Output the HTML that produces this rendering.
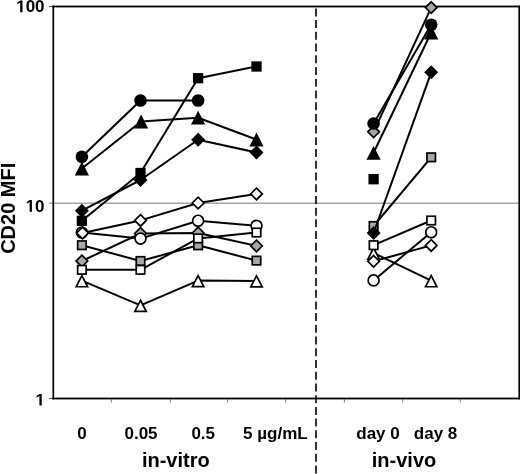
<!DOCTYPE html>
<html><head><meta charset="utf-8"><style>
html,body{margin:0;padding:0;background:#fff;}
svg{display:block;will-change:transform;}
text{font-family:"Liberation Sans",sans-serif;font-weight:bold;fill:#000;}
</style></head><body>
<svg width="520" height="474" viewBox="0 0 520 474">
<rect width="520" height="474" fill="#fff"/>
<!-- gridline at 10 -->
<line x1="53" y1="203.25" x2="519" y2="203.25" stroke="#a3a3a3" stroke-width="1.3"/>
<!-- ticks -->
<line x1="49" y1="6.5" x2="53" y2="6.5" stroke="#444" stroke-width="1"/>
<line x1="49" y1="203.1" x2="53" y2="203.1" stroke="#808080" stroke-width="1"/>
<line x1="49" y1="398.5" x2="53" y2="398.5" stroke="#555" stroke-width="1"/>
<!-- x ticks -->
<line x1="111.4" y1="399.3" x2="111.4" y2="402.6" stroke="#8a8a8a" stroke-width="1.1"/><line x1="170.3" y1="399.3" x2="170.3" y2="402.6" stroke="#8a8a8a" stroke-width="1.1"/><line x1="227.5" y1="399.3" x2="227.5" y2="402.6" stroke="#8a8a8a" stroke-width="1.1"/><line x1="285.7" y1="399.3" x2="285.7" y2="402.6" stroke="#8a8a8a" stroke-width="1.1"/><line x1="344.4" y1="399.3" x2="344.4" y2="402.6" stroke="#8a8a8a" stroke-width="1.1"/><line x1="402.6" y1="399.3" x2="402.6" y2="402.6" stroke="#8a8a8a" stroke-width="1.1"/><line x1="460.3" y1="399.3" x2="460.3" y2="402.6" stroke="#8a8a8a" stroke-width="1.1"/>
<!-- dashed separator -->
<line x1="316" y1="8.4" x2="316" y2="474" stroke="#000" stroke-width="1.6" stroke-dasharray="8 3.72"/>
<!-- plot frame -->
<rect x="52.45" y="5.6" width="467.55" height="1.8" fill="#000"/>
<rect x="52.45" y="397.6" width="467.55" height="1.8" fill="#000"/>
<rect x="52.45" y="5.6" width="1.7" height="393.8" fill="#000"/>
<rect x="518.4" y="5.6" width="1.6" height="393.8" fill="#000"/>
<polyline points="81.90,261.00 140.50,233.50 198.10,233.00 256.50,245.90" fill="none" stroke="#000" stroke-width="2.0" stroke-linejoin="round"/>
<polyline points="373.60,131.80 431.20,7.60" fill="none" stroke="#000" stroke-width="2.0" stroke-linejoin="round"/>
<path d="M81.90 255.20L87.70 261.00L81.90 266.80L76.10 261.00Z" fill="#a8a8a8" stroke="#000" stroke-width="1.7"/>
<path d="M140.50 227.70L146.30 233.50L140.50 239.30L134.70 233.50Z" fill="#a8a8a8" stroke="#000" stroke-width="1.7"/>
<path d="M198.10 227.20L203.90 233.00L198.10 238.80L192.30 233.00Z" fill="#a8a8a8" stroke="#000" stroke-width="1.7"/>
<path d="M256.50 240.10L262.30 245.90L256.50 251.70L250.70 245.90Z" fill="#a8a8a8" stroke="#000" stroke-width="1.7"/>
<path d="M373.60 126.00L379.40 131.80L373.60 137.60L367.80 131.80Z" fill="#a8a8a8" stroke="#000" stroke-width="1.7"/>
<path d="M431.20 1.80L437.00 7.60L431.20 13.40L425.40 7.60Z" fill="#a8a8a8" stroke="#000" stroke-width="1.7"/>
<polyline points="81.90,245.20 140.50,261.00 198.10,245.30 256.50,260.60" fill="none" stroke="#000" stroke-width="2.0" stroke-linejoin="round"/>
<polyline points="373.60,226.00 431.20,157.30" fill="none" stroke="#000" stroke-width="2.0" stroke-linejoin="round"/>
<rect x="77.65" y="240.95" width="8.50" height="8.50" fill="#a8a8a8" stroke="#000" stroke-width="1.7"/>
<rect x="136.25" y="256.75" width="8.50" height="8.50" fill="#a8a8a8" stroke="#000" stroke-width="1.7"/>
<rect x="193.85" y="241.05" width="8.50" height="8.50" fill="#a8a8a8" stroke="#000" stroke-width="1.7"/>
<rect x="252.25" y="256.35" width="8.50" height="8.50" fill="#a8a8a8" stroke="#000" stroke-width="1.7"/>
<rect x="369.35" y="221.75" width="8.50" height="8.50" fill="#a8a8a8" stroke="#000" stroke-width="1.7"/>
<rect x="426.95" y="153.05" width="8.50" height="8.50" fill="#a8a8a8" stroke="#000" stroke-width="1.7"/>
<polyline points="81.90,280.70 140.50,305.30 198.10,280.60 256.50,280.90" fill="none" stroke="#000" stroke-width="2.0" stroke-linejoin="round"/>
<polyline points="373.60,253.00 431.20,280.70" fill="none" stroke="#000" stroke-width="2.0" stroke-linejoin="round"/>
<path d="M81.90 275.66L87.61 286.75L76.19 286.75Z" fill="#fff" stroke="#000" stroke-width="1.7" stroke-miterlimit="10"/>
<path d="M140.50 300.26L146.21 311.35L134.79 311.35Z" fill="#fff" stroke="#000" stroke-width="1.7" stroke-miterlimit="10"/>
<path d="M198.10 275.56L203.81 286.65L192.39 286.65Z" fill="#fff" stroke="#000" stroke-width="1.7" stroke-miterlimit="10"/>
<path d="M256.50 275.86L262.21 286.95L250.79 286.95Z" fill="#fff" stroke="#000" stroke-width="1.7" stroke-miterlimit="10"/>
<path d="M373.60 247.96L379.31 259.05L367.89 259.05Z" fill="#fff" stroke="#000" stroke-width="1.7" stroke-miterlimit="10"/>
<path d="M431.20 275.66L436.91 286.75L425.49 286.75Z" fill="#fff" stroke="#000" stroke-width="1.7" stroke-miterlimit="10"/>
<polyline points="81.90,232.50 140.50,238.60 198.10,220.70 256.50,225.80" fill="none" stroke="#000" stroke-width="2.0" stroke-linejoin="round"/>
<polyline points="373.60,280.40 431.20,232.20" fill="none" stroke="#000" stroke-width="2.0" stroke-linejoin="round"/>
<circle cx="81.9" cy="232.5" r="5.45" fill="#fff" stroke="#000" stroke-width="1.7"/>
<circle cx="140.5" cy="238.6" r="5.45" fill="#fff" stroke="#000" stroke-width="1.7"/>
<circle cx="198.1" cy="220.7" r="5.45" fill="#fff" stroke="#000" stroke-width="1.7"/>
<circle cx="256.5" cy="225.8" r="5.45" fill="#fff" stroke="#000" stroke-width="1.7"/>
<circle cx="373.6" cy="280.4" r="5.45" fill="#fff" stroke="#000" stroke-width="1.7"/>
<circle cx="431.2" cy="232.2" r="5.45" fill="#fff" stroke="#000" stroke-width="1.7"/>
<polyline points="82.50,233.00 140.50,220.40 198.10,203.00 256.50,193.90" fill="none" stroke="#000" stroke-width="2.0" stroke-linejoin="round"/>
<polyline points="373.60,261.30 431.20,245.40" fill="none" stroke="#000" stroke-width="2.0" stroke-linejoin="round"/>
<path d="M82.50 227.20L88.30 233.00L82.50 238.80L76.70 233.00Z" fill="#fff" stroke="#000" stroke-width="1.7"/>
<path d="M140.50 214.60L146.30 220.40L140.50 226.20L134.70 220.40Z" fill="#fff" stroke="#000" stroke-width="1.7"/>
<path d="M198.10 197.20L203.90 203.00L198.10 208.80L192.30 203.00Z" fill="#fff" stroke="#000" stroke-width="1.7"/>
<path d="M256.50 188.10L262.30 193.90L256.50 199.70L250.70 193.90Z" fill="#fff" stroke="#000" stroke-width="1.7"/>
<path d="M373.60 255.50L379.40 261.30L373.60 267.10L367.80 261.30Z" fill="#fff" stroke="#000" stroke-width="1.7"/>
<path d="M431.20 239.60L437.00 245.40L431.20 251.20L425.40 245.40Z" fill="#fff" stroke="#000" stroke-width="1.7"/>
<polyline points="81.90,269.80 140.50,269.80 198.10,238.40 256.50,232.50" fill="none" stroke="#000" stroke-width="2.0" stroke-linejoin="round"/>
<polyline points="373.60,245.20 431.20,220.50" fill="none" stroke="#000" stroke-width="2.0" stroke-linejoin="round"/>
<rect x="77.65" y="265.55" width="8.50" height="8.50" fill="#fff" stroke="#000" stroke-width="1.7"/>
<rect x="136.25" y="265.55" width="8.50" height="8.50" fill="#fff" stroke="#000" stroke-width="1.7"/>
<rect x="193.85" y="234.15" width="8.50" height="8.50" fill="#fff" stroke="#000" stroke-width="1.7"/>
<rect x="252.25" y="228.25" width="8.50" height="8.50" fill="#fff" stroke="#000" stroke-width="1.7"/>
<rect x="369.35" y="240.95" width="8.50" height="8.50" fill="#fff" stroke="#000" stroke-width="1.7"/>
<rect x="426.95" y="216.25" width="8.50" height="8.50" fill="#fff" stroke="#000" stroke-width="1.7"/>
<polyline points="81.90,220.80 140.50,173.00 198.10,78.20 256.50,66.50" fill="none" stroke="#000" stroke-width="2.0" stroke-linejoin="round"/>
<rect x="76.75" y="215.65" width="10.3" height="10.3" fill="#000"/>
<rect x="135.35" y="167.85" width="10.3" height="10.3" fill="#000"/>
<rect x="192.95" y="73.05" width="10.3" height="10.3" fill="#000"/>
<rect x="251.35" y="61.35" width="10.3" height="10.3" fill="#000"/>
<rect x="368.45" y="174.05" width="10.3" height="10.3" fill="#000"/>
<polyline points="81.90,210.70 140.50,180.00 198.10,139.70 256.50,152.50" fill="none" stroke="#000" stroke-width="2.0" stroke-linejoin="round"/>
<polyline points="373.60,233.00 431.20,72.30" fill="none" stroke="#000" stroke-width="2.0" stroke-linejoin="round"/>
<path d="M81.90 203.70L88.90 210.70L81.90 217.70L74.90 210.70Z" fill="#000"/>
<path d="M140.50 173.00L147.50 180.00L140.50 187.00L133.50 180.00Z" fill="#000"/>
<path d="M198.10 132.70L205.10 139.70L198.10 146.70L191.10 139.70Z" fill="#000"/>
<path d="M256.50 145.50L263.50 152.50L256.50 159.50L249.50 152.50Z" fill="#000"/>
<path d="M373.60 226.00L380.60 233.00L373.60 240.00L366.60 233.00Z" fill="#000"/>
<path d="M431.20 65.30L438.20 72.30L431.20 79.30L424.20 72.30Z" fill="#000"/>
<polyline points="81.90,168.50 141.10,121.50 198.10,117.70 256.50,139.50" fill="none" stroke="#000" stroke-width="2.0" stroke-linejoin="round"/>
<polyline points="373.60,152.80 431.20,32.50" fill="none" stroke="#000" stroke-width="2.0" stroke-linejoin="round"/>
<path d="M81.90 161.60L89.00 175.40L74.80 175.40Z" fill="#000"/>
<path d="M141.10 114.60L148.20 128.40L134.00 128.40Z" fill="#000"/>
<path d="M198.10 110.80L205.20 124.60L191.00 124.60Z" fill="#000"/>
<path d="M256.50 132.60L263.60 146.40L249.40 146.40Z" fill="#000"/>
<path d="M373.60 145.90L380.70 159.70L366.50 159.70Z" fill="#000"/>
<path d="M431.20 25.60L438.30 39.40L424.10 39.40Z" fill="#000"/>
<polyline points="81.90,156.80 140.50,100.50 198.10,100.50" fill="none" stroke="#000" stroke-width="2.0" stroke-linejoin="round"/>
<polyline points="373.60,123.50 431.20,24.70" fill="none" stroke="#000" stroke-width="2.0" stroke-linejoin="round"/>
<circle cx="81.9" cy="156.8" r="6.3" fill="#000"/>
<circle cx="140.5" cy="100.5" r="6.3" fill="#000"/>
<circle cx="198.1" cy="100.5" r="6.3" fill="#000"/>
<circle cx="373.6" cy="123.5" r="6.3" fill="#000"/>
<circle cx="431.2" cy="24.7" r="6.3" fill="#000"/>
<!-- y labels -->
<path transform="translate(16.19 12.2) scale(0.008301 -0.008301)" d="M478 0L478 1170L140 959L140 1180L493 1409L759 1409L759 0Z" fill="#000"/><text x="25.64" y="12.2" font-size="17">00</text>
<path transform="translate(25.64 211.8) scale(0.008301 -0.008301)" d="M478 0L478 1170L140 959L140 1180L493 1409L759 1409L759 0Z" fill="#000"/><text x="35.1" y="211.8" font-size="17">0</text>
<path transform="translate(35.45 405.6) scale(0.008301 -0.008301)" d="M478 0L478 1170L140 959L140 1180L493 1409L759 1409L759 0Z" fill="#000"/>
<text transform="translate(15.1 208.3) rotate(-90)" font-size="20" text-anchor="middle">CD20 MFI</text>
<!-- x labels -->
<text x="81.9" y="438.9" font-size="17" text-anchor="middle">0</text>
<text x="141" y="438.9" font-size="17" text-anchor="middle">0.05</text>
<text x="203.2" y="438.9" font-size="17" text-anchor="middle">0.5</text>
<text x="275.4" y="438.9" font-size="17" text-anchor="middle">5 µg/mL</text>
<text x="378.0" y="438.9" font-size="17" text-anchor="middle">day 0</text>
<text x="435.6" y="438.9" font-size="17" text-anchor="middle">day 8</text>
<text x="175.8" y="466.7" font-size="20" text-anchor="middle">in-vitro</text>
<text x="404" y="466.7" font-size="20" text-anchor="middle">in-vivo</text>
</svg>
</body></html>
